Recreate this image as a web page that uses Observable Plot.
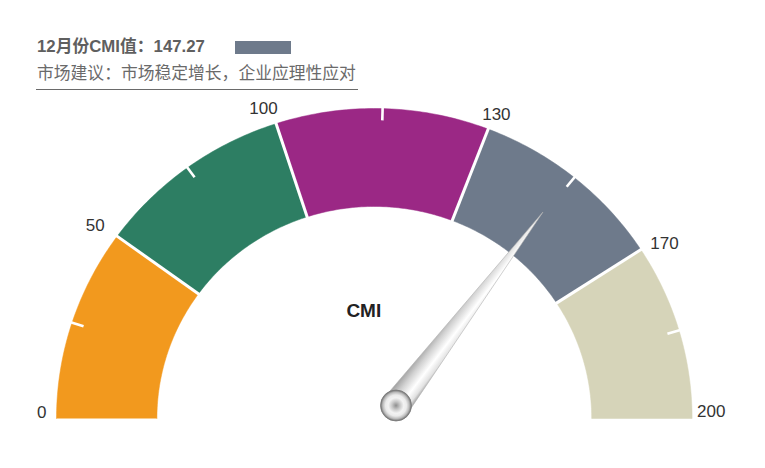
<!DOCTYPE html>
<html>
<head>
<meta charset="utf-8">
<script src="https://cdn.jsdelivr.net/npm/d3@7"></script>
<script src="https://cdn.jsdelivr.net/npm/@observablehq/plot@0.6"></script>
<style>
  body { margin: 0; background: #fff; }
  #wrap { position: relative; width: 765px; height: 468px; font-family: "Liberation Sans", "Noto Sans CJK SC", Arial, sans-serif; }
  #t1 { position: absolute; left: 37px; top: 37px; font-size: 16.8px; line-height: 20px; font-weight: bold; color: #5f5f5f; white-space: nowrap; }
  #sw { position: absolute; left: 235px; top: 41px; width: 56px; height: 13px; }
  #t2 { position: absolute; left: 37px; top: 64px; font-size: 16.8px; line-height: 20px; color: #6a6a6a; white-space: nowrap; }
  #rule { position: absolute; left: 36px; top: 89px; width: 322px; height: 1px; background: #6a6a6a; }
  #chart { position: absolute; left: 0; top: 0; }
  #hdr { position: absolute; left: 0; top: 0; z-index: 2; }
</style>
</head>
<body>
<div id="wrap">
  <div id="chart"></div>
  <div id="hdr">
    <div id="t1"></div>
    <div id="sw"></div>
    <div id="t2"></div>
    <div id="rule"></div>
  </div>
</div>
<script>
// ---- data ----
const monthLabel = "12月份";
const seriesName = "CMI";
const cmiValue = 147.27;
const adviceText = "市场建议：市场稳定增长，企业应理性应对";
const bandBounds = [0, 50, 100, 130, 170, 200];
const bandColors = ["#F2991E", "#2D7E63", "#9B2885", "#6E7A8B", "#D6D4B9"];
const tickValues = [25, 75, 115, 150, 185];

// ---- styling / layout ----
const boundAngles = [0, 36, 72, 111, 147, 180];     // angle (deg, from left) for each bound
const innerR = 0.684;
const labelNudge = [[-10, -5.5], [-12.5, -11], [1.5, -15], [-6, -14.5], [9.5, -6], [5, -6.5]];
const pivotOffsetPx = [21.7, -13];
const needleLenPx = 243;
const needleHalfW = 14;

const xScale = d3.scaleLinear([-1, 1], [56, 691.6]);
const yScale = d3.scaleLinear([0, 1], [418, 108]);
const angle = d3.scaleLinear(bandBounds, boundAngles);
const rad = (deg) => deg * Math.PI / 180;
const pt = (v, r) => { const a = rad(angle(v)); return {x: -r * Math.cos(a), y: r * Math.sin(a)}; };

// header
document.getElementById("t1").textContent = `${monthLabel}${seriesName}值：${cmiValue}`;
document.getElementById("sw").style.background = bandColors[3];
document.getElementById("t2").textContent = adviceText;

// band polygons
const bandRows = [];
bandColors.forEach((c, i) => {
  const lo = bandBounds[i], hi = bandBounds[i + 1], n = 48;
  for (let t = 0; t <= n; t++) { const p = pt(lo + (hi - lo) * t / n, 1); bandRows.push({band: i, x: p.x, y: p.y}); }
  for (let t = n; t >= 0; t--) { const p = pt(lo + (hi - lo) * t / n, innerR); bandRows.push({band: i, x: p.x, y: p.y}); }
});

// needle (pixel geometry from the angle scale, then back into data units)
const cx = xScale(0), cy = yScale(0);
const P = [cx + pivotOffsetPx[0], cy + pivotOffsetPx[1]];
const na = rad(angle(cmiValue));
let d = [-Math.cos(na) * (xScale(1) - xScale(0)), -Math.sin(na) * (yScale(0) - yScale(1))];
const dl = Math.hypot(d[0], d[1]); d = [d[0] / dl, d[1] / dl];
const nrm = [-d[1], d[0]];
const tip = [P[0] + d[0] * needleLenPx, P[1] + d[1] * needleLenPx];
const A = [P[0] + nrm[0] * needleHalfW, P[1] + nrm[1] * needleHalfW];
const B = [P[0] - nrm[0] * needleHalfW, P[1] - nrm[1] * needleHalfW];
const toData = (p) => ({x: xScale.invert(p[0]), y: yScale.invert(p[1])});
const needleRows = [A, tip, B, A].map(toData);
const pivotRow = [toData(P)];

const defs = () => {
  const g = document.createElementNS("http://www.w3.org/2000/svg", "defs");
  g.innerHTML = `
    <linearGradient id="needleGrad" gradientUnits="userSpaceOnUse" x1="${B[0]}" y1="${B[1]}" x2="${A[0]}" y2="${A[1]}">
      <stop offset="0" stop-color="#9c9c9c"/>
      <stop offset="0.3" stop-color="#d2d2d2"/>
      <stop offset="0.62" stop-color="#ffffff"/>
      <stop offset="0.85" stop-color="#e2e2e2"/>
      <stop offset="1" stop-color="#999999"/>
    </linearGradient>
    <radialGradient id="pivotGrad">
      <stop offset="0" stop-color="#8e8e8e"/>
      <stop offset="0.25" stop-color="#c6c6c6"/>
      <stop offset="0.5" stop-color="#f3f3f3"/>
      <stop offset="0.68" stop-color="#ebebeb"/>
      <stop offset="0.85" stop-color="#bcbcbc"/>
      <stop offset="1" stop-color="#6e6e6e"/>
    </radialGradient>`;
  return g;
};

const labelMarks = bandBounds.map((v, i) => {
  const p = pt(v, 1);
  return Plot.text([v], {
    x: () => p.x, y: () => p.y, text: (d) => String(d),
    textAnchor: angle(v) > 100 ? "start" : "end",
    dx: labelNudge[i][0], dy: labelNudge[i][1],
    fontSize: 17, fill: "#333"
  });
});

const chart = Plot.plot({
  width: 765,
  height: 468,
  margin: 0,
  x: {domain: xScale.domain(), range: xScale.range(), axis: null},
  y: {domain: yScale.domain(), range: yScale.range(), axis: null},
  style: {fontFamily: "Liberation Sans, Arial, sans-serif", background: "white"},
  marks: [
    defs,
    ...bandColors.map((c, i) => Plot.line(bandRows.filter(r => r.band === i), {x: "x", y: "y", fill: c, stroke: c, strokeWidth: 0.5, curve: "linear"})),
    Plot.link(bandBounds.slice(1, -1), {
      x1: v => pt(v, innerR - 0.02).x, y1: v => pt(v, innerR - 0.02).y,
      x2: v => pt(v, 1.02).x, y2: v => pt(v, 1.02).y,
      stroke: "white", strokeWidth: 3
    }),
    Plot.link(tickValues, {
      x1: v => pt(v, 0.962).x, y1: v => pt(v, 0.962).y,
      x2: v => pt(v, 1.01).x, y2: v => pt(v, 1.01).y,
      stroke: "white", strokeWidth: 2.6
    }),
    ...labelMarks,
    Plot.text([seriesName], {x: () => 0, y: () => 0.348, dx: -10.5, text: d => d, fontSize: 19, fontWeight: "bold", fill: "#222"}),
    Plot.line(needleRows, {x: "x", y: "y", fill: "url(#needleGrad)", stroke: "#b0b0b0", strokeWidth: 0.6}),
    Plot.dot(pivotRow, {x: "x", y: "y", r: 15.5, fill: "url(#pivotGrad)", stroke: "#7a7a7a", strokeWidth: 0.8})
  ]
});
document.getElementById("chart").appendChild(chart);
</script>
</body>
</html>
